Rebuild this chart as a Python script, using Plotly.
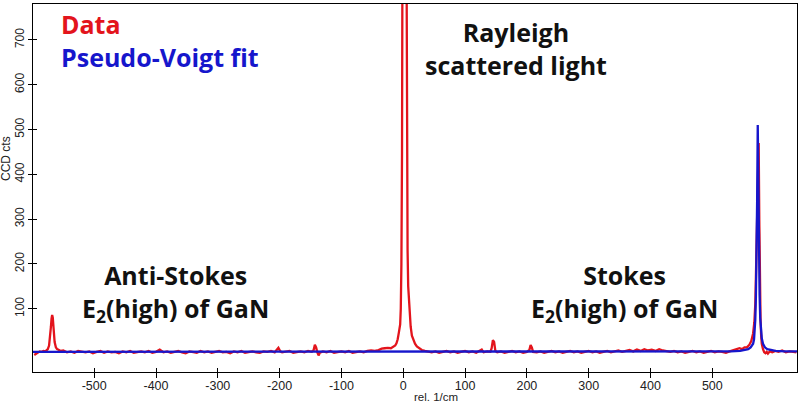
import plotly.graph_objects as go

# ---- measured spectrum (rel. 1/cm, CCD counts) ----
data_x = [
    -597, -594, -591, -588, -585, -582, -579, -577, -575, -573, -571, -570, -569, -568, -567, -566, -565, -564, -562, -560, -557, -554, -550,
    -544, -538, -532, -526, -520, -514, -508, -502, -496, -490, -484, -478, -472, -466, -460, -454, -448, -442, -436, -430, -424, -418, -412,
    -406, -400, -394, -388, -382, -376, -370, -364, -358, -352, -346, -340, -334, -328, -322, -316, -310, -304, -298, -292, -286, -280, -274,
    -268, -262, -256, -250, -244, -238, -232, -226, -220, -214, -208, -202, -199, -196, -190, -184, -178, -172, -166, -160, -154, -148, -145,
    -143, -141, -139, -137, -135, -130, -124, -118, -112, -106, -100, -94, -88, -82, -76, -70, -64, -58, -52,
    -46, -40, -35, -30, -25, -20, -16, -13, -11, -9, -7, -5, -4, -3, -2, -1, 0, 2, 4, 5, 6, 7, 8, 10, 12, 14, 17, 19, 22, 26, 30, 35, 40,
    46, 52, 58, 64, 70, 76, 82, 88, 94, 100, 106, 112, 118, 124, 127, 130, 136, 141, 143, 145, 147, 149, 152, 158, 164, 170, 176, 182, 188,
    194, 200, 204, 206, 208, 210, 216, 222, 228, 234, 240, 246, 252, 258, 264, 270, 276, 282, 288, 294, 300, 306, 312, 318, 324, 330, 336,
    342, 348, 354, 360, 366, 372, 378, 384, 390, 396, 402, 408, 414, 420, 426, 432, 438, 444, 450, 456, 462, 468, 474, 480, 486, 492, 498,
    504, 510, 516, 522, 528, 534, 540, 544, 548, 552, 556, 560, 563, 566, 568, 569.5, 570.5, 571.5, 572.5, 573, 574, 575, 576, 577, 578,
    579, 580, 582, 584, 586, 588, 590, 593, 597, 602, 607, 613, 619, 625, 631, 636,
]
data_y = [
    -3, 0, 3, 5, 4, 6, 5, 7, 10, 18, 38, 60, 78, 86, 80, 62, 42, 26, 14, 10, 8, 6, 7,
    3, 5, 2, 6, 4, 3, 5, 1, 4, 6, 2, 5, 3, 4, 1, 5, 3, 6, 2, 4, 5, 3, 6,
    2, 4, 9, 3, 5, 2, 4, 6, 3, 1, 5, 4, 2, 6, 3, 5, 2, 4, 6, 3, 4, 1, 5,
    3, 6, 2, 4, 5, 3, 2, 5, 4, 6, 3, 13, 5, 3, 4, 6, 2, 4, 5, 3, 6, 4, 8,
    20, 14, 3, -4, 2, 5, 3, 6, 2, 4, 5, 3, 6, 2, 4, 5, 3, 6, 7,
    6, 8, 11, 12, 13, 12, 15, 18, 23, 32, 48, 65, 100, 200, 450, 1000, 2000, 3000, 2000, 1000, 480, 230, 150, 90, 60, 40, 27, 22, 16, 11, 8, 6, 4,
    3, 5, 2, 4, 6, 3, 5, 2, 4, 6, 3, 5, 2, 7, 9, 3, 5, 4, 12, 30, 26, 6, 3, 5, 2, 4, 6, 3, 5,
    2, 4, 8, 19, 14, 4, 3, 5, 2, 4, 6, 3, 5, 2, 4, 6, 3, 5, 2, 4, 6, 3, 5, 2, 4, 6, 3,
    5, 7, 4, 6, 8, 5, 9, 6, 10, 7, 9, 6, 10, 7, 5, 4, 6, 3, 5, 2, 4, 6, 3, 5, 2, 4, 6,
    3, 5, 4, 2, 5, 7, 9, 12, 10, 14, 14, 20, 28, 45, 70, 110, 170, 240, 320, 380, 460, 470, 300, 150, 75,
    40, 22, 10, 3, 1, 4, 0, 5, 3, 6, 4, 7, 3, 5, 4, 3,
]

# ---- pseudo-Voigt fit curve ----
fit_x = [-599, -400, -200, 0, 200, 400, 530, 545, 553, 558, 562, 566, 567.5, 568.5, 569.5, 570.5, 571.5, 572.5,
         573.5, 574.5, 575.5, 576.5, 577.5, 578.5, 580, 582, 585, 589, 594, 602, 617, 637]
fit_y = [4, 4, 4, 4, 4, 4, 5, 6, 8, 10, 14, 22, 32, 48, 75, 125, 210, 340,
         510, 345, 215, 130, 80, 52, 34, 22, 14, 10, 8, 6, 5, 5]

x_ticks = [-500, -400, -300, -200, -100, 0, 100, 200, 300, 400, 500]
y_ticks = [100, 200, 300, 400, 500, 600, 700]

RED = "#e3141c"
BLUE = "#1616cc"

fig = go.Figure()
fig.add_trace(go.Scatter(x=data_x, y=data_y, mode="lines",
                         line=dict(color=RED, width=2.3), showlegend=False))
fig.add_trace(go.Scatter(x=fit_x, y=fit_y, mode="lines",
                         line=dict(color=BLUE, width=2.3), showlegend=False))

axis_common = dict(showline=True, linecolor="black", linewidth=1.3, mirror=True,
                   ticks="inside", tickcolor="black", tickwidth=1.3, ticklen=4,
                   showgrid=False, zeroline=False)

fig.update_xaxes(range=[-599, 637], tickvals=x_ticks, ticktext=[str(v) for v in x_ticks],
                 ticklabelstandoff=2,
                 minor=dict(tickmode="array", tickvals=x_ticks, ticks="outside", ticklen=5,
                            tickcolor="black", tickwidth=1.3, showgrid=False),
                 tickfont=dict(family="Liberation Sans, Arial", size=12.5, color="#222"),
                 **axis_common)
fig.update_yaxes(range=[-41, 780], tickvals=y_ticks, ticktext=[str(v) for v in y_ticks],
                 tickangle=-90, ticklabelstandoff=3,
                 minor=dict(tickmode="array", tickvals=y_ticks, ticks="outside", ticklen=4,
                            tickcolor="black", tickwidth=1.3, showgrid=False),
                 tickfont=dict(family="Liberation Sans, Arial", size=12, color="#222"),
                 **axis_common)

ann_font = "Open Sans, sans-serif"
legend_text = (f"<span style='color:{RED}'>Data</span><br>"
               f"<span style='color:{BLUE}'>Pseudo-Voigt fit</span>")
annotations = [
    dict(text=legend_text, x=0.034, y=0.901, xanchor="left", yanchor="middle", align="left",
         font=dict(family=ann_font, size=25, color=BLUE, weight="bold")),
    dict(text="Rayleigh<br>scattered light", x=0.632, y=0.880, xanchor="center", yanchor="middle",
         font=dict(family=ann_font, size=25, color="#111", weight="bold")),
    dict(text="Anti-Stokes<br>E<sub>2</sub>(high) of GaN", x=0.186, y=0.214, xanchor="center", yanchor="middle",
         font=dict(family=ann_font, size=25, color="#111", weight="bold")),
    dict(text="Stokes<br>E<sub>2</sub>(high) of GaN", x=0.7736, y=0.214, xanchor="center", yanchor="middle",
         font=dict(family=ann_font, size=25, color="#111", weight="bold")),
    dict(text="CCD cts", x=-0.0353, y=0.579, xanchor="center", yanchor="middle", textangle=-90,
         font=dict(family="Liberation Sans, Arial", size=12, color="#222")),
    dict(text="rel. 1/cm", x=0.527, y=-0.0674, xanchor="center", yanchor="middle", borderpad=0,
         font=dict(family="Liberation Sans, Arial", size=11.5, color="#222")),
]
for a in annotations:
    a.update(xref="paper", yref="paper", showarrow=False)

fig.update_layout(width=800, height=403, margin=dict(l=33, r=3, t=4, b=31),
                  paper_bgcolor="white", plot_bgcolor="white",
                  annotations=annotations, showlegend=False)

fig.write_html("out.html")
